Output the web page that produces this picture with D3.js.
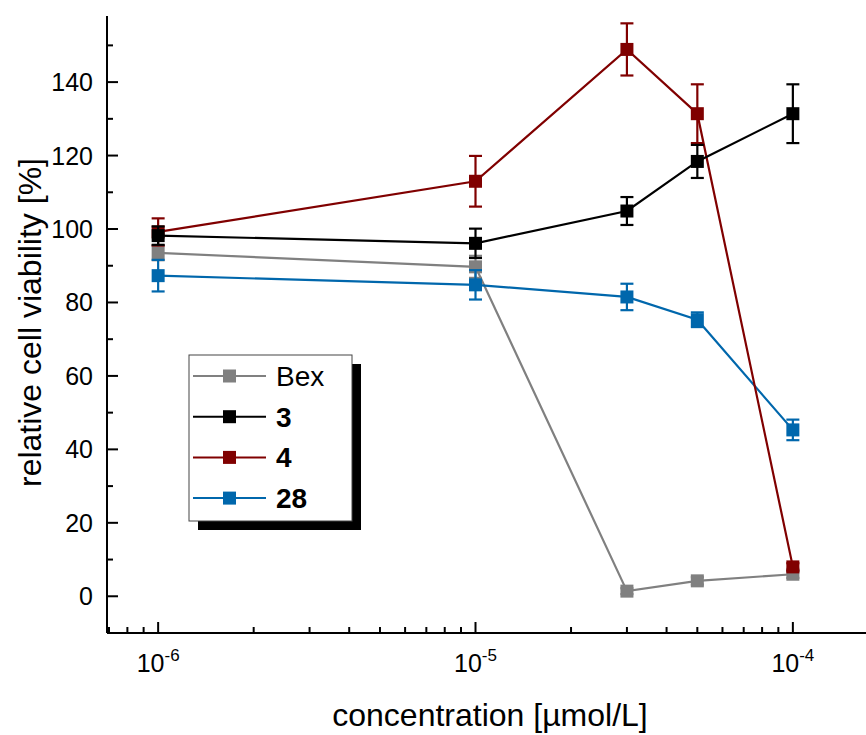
<!DOCTYPE html>
<html>
<head>
<meta charset="utf-8">
<script src="https://cdn.jsdelivr.net/npm/d3@7"></script>
<style>
  body { margin: 0; background: #fff; }
  svg { display: block; font-family: "Liberation Sans", Arial, sans-serif; }
</style>
</head>
<body>
<svg id="chart"></svg>
<script>
const concentrations = [1e-6, 1e-5, 3e-5, 5e-5, 1e-4]

const bexValues = [93.5, 89.7, 1.4, 4.2, 6.0]
const bexErrors = [2, 3, 0.8, 1, 1]
const c3Values = [98.2, 96.1, 104.9, 118.4, 131.4]
const c3Errors = [2.5, 4, 3.8, 4.5, 8]
const c4Values = [99.2, 113, 148.9, 131.4, 8]
const c4Errors = [3.7, 6.9, 7.1, 8, 1]
const c28Values = [87.3, 84.8, 81.5, 75.3, 45.3]
const c28Errors = [4.3, 4, 3.6, 2, 2.8]

const seriesNames = ["Bex", "3", "4", "28"]
const seriesColors = ["#808080", "#000000", "#800000", "#0067ac"]
const yTicks = [0, 20, 40, 60, 80, 100, 120, 140]
const xLabel = "concentration [µmol/L]"
const yLabel = "relative cell viability [%]"

const series = [
  { name: "Bex", values: bexValues, errors: bexErrors, color: seriesColors[0] },
  { name: "28", values: c28Values, errors: c28Errors, color: seriesColors[3] },
  { name: "4", values: c4Values, errors: c4Errors, color: seriesColors[2] },
  { name: "3", values: c3Values, errors: c3Errors, color: seriesColors[1] }
]

const width = 866, height = 735
const plotLeft = 107, plotRight = 866, plotTop = 16, plotBottom = 633

const svg = d3.select("#chart")
  .attr("width", width)
  .attr("height", height)
  .attr("viewBox", [0, 0, width, height])

const x = d3.scaleLog().domain([6.9e-7, 1.7e-4]).range([plotLeft, plotRight])
const y = d3.scaleLinear().domain([-10, 158]).range([plotBottom, plotTop])

// y axis: major ticks inside, minor ticks between
const yAxis = svg.append("g").attr("transform", `translate(${plotLeft},0)`)
yAxis.append("line")
  .attr("x1", 0).attr("x2", 0).attr("y1", plotTop).attr("y2", plotBottom)
  .attr("stroke", "#000").attr("stroke-width", 2)
yAxis.selectAll(".major").data(yTicks).join("line")
  .attr("x1", 0).attr("x2", 11)
  .attr("y1", d => y(d)).attr("y2", d => y(d))
  .attr("stroke", "#000").attr("stroke-width", 2)
yAxis.selectAll(".minor").data(d3.range(-10, 160, 20)).join("line")
  .attr("x1", 0).attr("x2", 6)
  .attr("y1", d => y(d)).attr("y2", d => y(d))
  .attr("stroke", "#000").attr("stroke-width", 2)
yAxis.selectAll("text").data(yTicks).join("text")
  .attr("x", -14)
  .attr("y", d => y(d))
  .attr("dy", "0.36em")
  .attr("text-anchor", "end")
  .attr("font-size", 25)
  .text(d => d)

// x axis (log): decades long, 2..9 short, ticks pointing up
const xAxis = svg.append("g").attr("transform", `translate(0,${plotBottom})`)
xAxis.append("line")
  .attr("x1", plotLeft).attr("x2", plotRight).attr("y1", 0).attr("y2", 0)
  .attr("stroke", "#000").attr("stroke-width", 2)
const xMinor = x.ticks().filter(d => {
  const m = Math.round(d / Math.pow(10, Math.floor(Math.log10(d) + 1e-9)))
  return m !== 1
})
const xMajor = [1e-6, 1e-5, 1e-4]
xAxis.selectAll(".minor").data(xMinor).join("line")
  .attr("x1", d => x(d)).attr("x2", d => x(d))
  .attr("y1", 0).attr("y2", -6)
  .attr("stroke", "#000").attr("stroke-width", 2)
xAxis.selectAll(".major").data(xMajor).join("line")
  .attr("x1", d => x(d)).attr("x2", d => x(d))
  .attr("y1", 0).attr("y2", -11)
  .attr("stroke", "#000").attr("stroke-width", 2)
const xText = xAxis.selectAll("text").data(xMajor).join("text")
  .attr("x", d => x(d))
  .attr("y", 39)
  .attr("text-anchor", "middle")
  .attr("font-size", 25)
xText.append("tspan").text("10")
xText.append("tspan")
  .attr("dy", -11)
  .attr("font-size", 17)
  .text(d => Math.round(Math.log10(d)))

// axis titles
svg.append("text")
  .attr("x", 490).attr("y", 726)
  .attr("text-anchor", "middle")
  .attr("font-size", 32)
  .text(xLabel)
svg.append("text")
  .attr("transform", `translate(41,${(155 + 490) / 2}) rotate(-90)`)
  .attr("text-anchor", "middle")
  .attr("font-size", 32)
  .text(yLabel)

// series
const line = d3.line()
  .x((d, i) => x(concentrations[i]))
  .y(d => y(d))

series.forEach(s => {
  const g = svg.append("g")
  g.append("path")
    .attr("d", line(s.values))
    .attr("fill", "none")
    .attr("stroke", s.color)
    .attr("stroke-width", 2.2)
  const pts = s.values.map((v, i) => ({ x: concentrations[i], v, e: s.errors[i] }))
  g.selectAll(".err").data(pts).join("line")
    .attr("x1", d => x(d.x)).attr("x2", d => x(d.x))
    .attr("y1", d => y(d.v - d.e)).attr("y2", d => y(d.v + d.e))
    .attr("stroke", s.color).attr("stroke-width", 2.2)
  g.selectAll(".capTop").data(pts).join("line")
    .attr("x1", d => x(d.x) - 6.5).attr("x2", d => x(d.x) + 6.5)
    .attr("y1", d => y(d.v + d.e)).attr("y2", d => y(d.v + d.e))
    .attr("stroke", s.color).attr("stroke-width", 2.2)
  g.selectAll(".capBot").data(pts).join("line")
    .attr("x1", d => x(d.x) - 6.5).attr("x2", d => x(d.x) + 6.5)
    .attr("y1", d => y(d.v - d.e)).attr("y2", d => y(d.v - d.e))
    .attr("stroke", s.color).attr("stroke-width", 2.2)
  g.selectAll("rect").data(pts).join("rect")
    .attr("x", d => x(d.x) - 6.5).attr("y", d => y(d.v) - 6.5)
    .attr("width", 13).attr("height", 13)
    .attr("fill", s.color)
})

// legend with drop shadow
const legend = svg.append("g").attr("transform", "translate(189,355)")
const lw = 163, lh = 166
legend.append("rect")
  .attr("x", 9).attr("y", 9).attr("width", lw).attr("height", lh)
  .attr("fill", "#000")
legend.append("rect")
  .attr("x", 0).attr("y", 0).attr("width", lw).attr("height", lh)
  .attr("fill", "#fff").attr("stroke", "#444").attr("stroke-width", 1)
const legendOrder = seriesNames.map((n, i) => ({ name: n, color: seriesColors[i], bold: i > 0 }))
const rows = legend.selectAll(".row").data(legendOrder).join("g")
  .attr("transform", (d, i) => `translate(0,${21 + i * 40.7})`)
rows.append("line")
  .attr("x1", 4).attr("x2", 77).attr("y1", 0).attr("y2", 0)
  .attr("stroke", d => d.color).attr("stroke-width", 2)
rows.append("rect")
  .attr("x", 34).attr("y", -6.5).attr("width", 13).attr("height", 13)
  .attr("fill", d => d.color)
rows.append("text")
  .attr("x", 87).attr("y", 0).attr("dy", "0.36em")
  .attr("font-size", 28)
  .attr("font-weight", d => d.bold ? "bold" : "normal")
  .text(d => d.name)
</script>
</body>
</html>
